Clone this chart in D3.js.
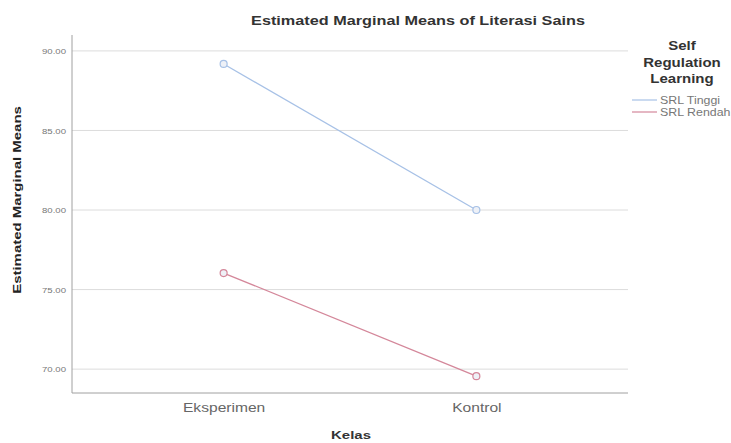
<!DOCTYPE html>
<html>
<head>
<meta charset="utf-8">
<script src="https://cdn.jsdelivr.net/npm/d3@7"></script>
<style>
  body { margin: 0; background: #fff; }
  svg { display: block; font-family: "Liberation Sans", Arial, sans-serif; }
</style>
</head>
<body>
<svg id="chart"></svg>
<script>
// data
const categories = ["Eksperimen", "Kontrol"];
const seriesNames = ["SRL Tinggi", "SRL Rendah"];
const srlTinggi = [89.18, 80.0];
const srlRendah = [76.04, 69.56];
const yTicks = [70, 75, 80, 85, 90];

const colors = ["#a7c1e6", "#d4879a"];
const series = [srlTinggi, srlRendah].map((vals, i) => ({
    name: seriesNames[i],
    color: colors[i],
    values: vals.map((v, j) => ({cat: categories[j], v: v}))
}));

const width = 731, height = 443;
const margin = {top: 35, right: 103, bottom: 50, left: 72};
const innerW = width - margin.left - margin.right;
const innerH = height - margin.top - margin.bottom;
const SX = 1.3; // text in the original is horizontally stretched

const svg = d3.select('#chart')
    .attr('width', width)
    .attr('height', height);

const chart = svg.append('g')
    .attr('transform', `translate(${margin.left},${margin.top})`);

const xScale = d3.scalePoint()
    .domain(categories)
    .range([0, innerW])
    .padding(0.6);

const yScale = d3.scaleLinear()
    .domain([68.5, 91.0])
    .range([innerH, 0]);

// gridlines
chart.append('g')
    .selectAll('line')
    .data(yTicks)
    .join('line')
    .attr('x1', 0)
    .attr('x2', innerW)
    .attr('y1', d => yScale(d))
    .attr('y2', d => yScale(d))
    .attr('stroke', '#dcdcdc')
    .attr('stroke-width', 1);

// y axis
const yAxis = d3.axisLeft(yScale)
    .tickValues(yTicks)
    .tickFormat(d3.format('.2f'))
    .tickSize(0)
    .tickPadding(5);
const yAxisG = chart.append('g').call(yAxis);
yAxisG.select('.domain').attr('stroke', '#a0a0a0').attr('d', `M0,0V${innerH}`);
yAxisG.selectAll('text')
    .attr('font-size', 8)
    .attr('fill', '#777')
    .attr('font-family', null)
    .attr('transform', 'scale(1.2,1)');

// x axis
const xAxis = d3.axisBottom(xScale).tickSize(0).tickPadding(10);
const xAxisG = chart.append('g')
    .attr('transform', `translate(0,${innerH})`)
    .call(xAxis);
xAxisG.select('.domain').attr('stroke', '#a0a0a0').attr('d', `M0,0H${innerW}`);
xAxisG.selectAll('text')
    .attr('font-size', 12)
    .attr('fill', '#666')
    .attr('font-family', null)
    .attr('transform', `scale(${SX},1)`);

// lines + markers
const line = d3.line()
    .x(d => xScale(d.cat))
    .y(d => yScale(d.v));

const groups = chart.selectAll('.series')
    .data(series)
    .join('g')
    .attr('class', 'series');

groups.append('path')
    .attr('d', d => line(d.values))
    .attr('fill', 'none')
    .attr('stroke', d => d.color)
    .attr('stroke-width', 1.3);

groups.selectAll('circle')
    .data(d => d.values.map(p => ({...p, color: d.color})))
    .join('circle')
    .attr('cx', d => xScale(d.cat))
    .attr('cy', d => yScale(d.v))
    .attr('r', 3.5)
    .attr('fill', '#eef1f7')
    .attr('stroke', d => d.color)
    .attr('stroke-width', 1.2);

// titles
svg.append('text')
    .attr('transform', `translate(418,25) scale(${SX},1)`)
    .attr('text-anchor', 'middle')
    .attr('font-size', 12.5)
    .attr('font-weight', 'bold')
    .attr('fill', '#333')
    .text('Estimated Marginal Means of Literasi Sains');

svg.append('text')
    .attr('transform', `translate(351,439) scale(${SX},1)`)
    .attr('text-anchor', 'middle')
    .attr('font-size', 11.5)
    .attr('font-weight', 'bold')
    .attr('fill', '#333')
    .text('Kelas');

svg.append('text')
    .attr('transform', `translate(21,200) rotate(-90) scale(${SX},1)`)
    .attr('text-anchor', 'middle')
    .attr('font-size', 11.5)
    .attr('font-weight', 'bold')
    .attr('fill', '#222')
    .text('Estimated Marginal Means');

// legend
const legend = svg.append('g').attr('transform', 'translate(682,0)');
legend.selectAll('.lt')
    .data(['Self', 'Regulation', 'Learning'])
    .join('text')
    .attr('class', 'lt')
    .attr('transform', (d, i) => `translate(0,${50 + i * 16.5}) scale(1.2,1)`)
    .attr('text-anchor', 'middle')
    .attr('font-size', 12.5)
    .attr('font-weight', 'bold')
    .attr('fill', '#333')
    .text(d => d);

const items = svg.append('g').attr('transform', 'translate(632,0)');
items.selectAll('line')
    .data(series)
    .join('line')
    .attr('x1', 0)
    .attr('x2', 25)
    .attr('y1', (d, i) => 100 + i * 12)
    .attr('y2', (d, i) => 100 + i * 12)
    .attr('stroke', d => d.color)
    .attr('stroke-width', 1.2);
items.selectAll('text')
    .data(series)
    .join('text')
    .attr('transform', (d, i) => `translate(28,${100 + i * 12}) scale(1.24,1)`)
    .attr('dy', '0.35em')
    .attr('font-size', 10)
    .attr('fill', '#777')
    .text(d => d.name);
</script>
</body>
</html>
